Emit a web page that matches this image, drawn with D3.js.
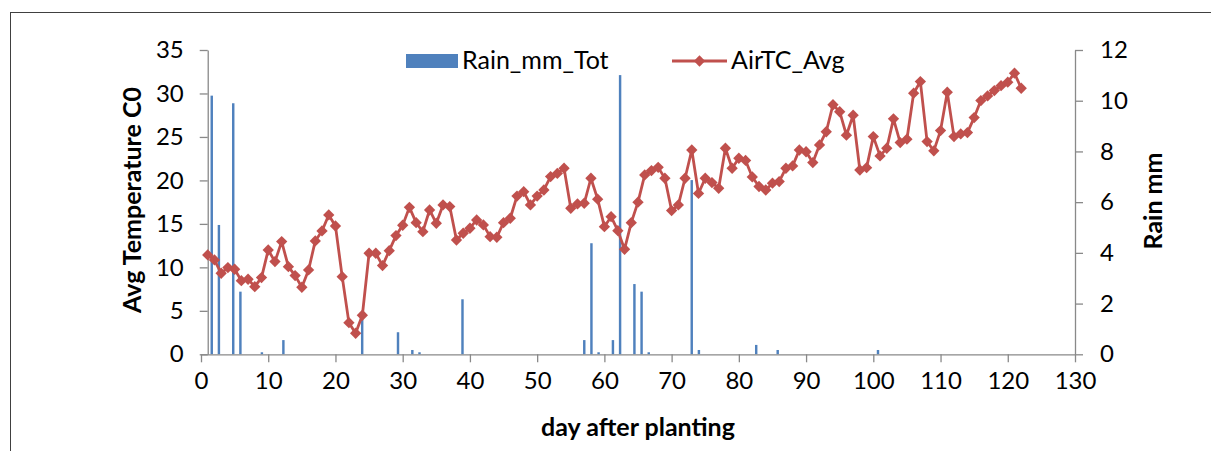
<!DOCTYPE html>
<html>
<head>
<meta charset="utf-8">
<script src="https://cdn.jsdelivr.net/npm/d3@7"></script>
<style>
  html, body { margin: 0; padding: 0; background: #fff; }
  svg { display: block; }
  text { font-family: Lato, "Open Sans", sans-serif; fill: #000; }
</style>
</head>
<body>
<svg id="chart" width="1211" height="451"></svg>
<script>
// ---- Data ----
const days = d3.range(1, 123); // day after planting, 1..122
const airTC = [
  11.43, 10.85, 9.32, 9.97, 9.78, 8.47, 8.63, 7.78, 8.82, 12.0,
  10.66, 12.96, 10.08, 9.05, 7.71, 9.70, 13.04, 14.19, 16.03, 14.76,
  8.93, 3.64, 2.42, 4.49, 11.62, 11.62, 10.2, 11.92, 13.65, 14.84,
  16.9, 15.14, 14.1, 16.6, 15.07, 17.18, 16.99, 13.15, 13.92, 14.5,
  15.45, 14.88, 13.53, 13.46, 15.14, 15.65, 18.2, 18.7, 17.18, 18.2,
  18.9, 20.44, 20.8, 21.4, 16.8, 17.3, 17.37, 20.25, 17.84, 14.68,
  15.83, 14.22, 12.08, 15.14, 17.5, 20.63, 21.13, 21.5, 20.25, 16.53,
  17.18, 20.25, 23.5, 18.5, 20.25, 19.75, 19.1, 23.7, 21.4, 22.55,
  22.3, 20.4, 19.3, 18.9, 19.68, 19.87, 21.4, 21.67, 23.5, 23.3,
  22.05, 24.08, 25.6, 28.7, 27.9, 25.2, 27.5, 21.2, 21.47, 25.04,
  22.82, 23.7, 27.08, 24.35, 24.74, 30.03, 31.37, 24.47, 23.4, 25.73,
  30.15, 25.04, 25.35, 25.5, 27.23, 29.18, 29.72, 30.33, 30.9, 31.3,
  32.33, 30.6
];
const rainDays = [2, 3, 5, 6, 9, 12, 23, 28, 30, 31, 37, 54, 55, 56, 58, 59, 61, 62, 63, 69, 70, 78, 81, 95];
const rainMM   = [10.2, 5.1, 9.9, 2.47, 0.08, 0.56, 1.6, 0.87, 0.17, 0.08, 2.17, 0.56, 4.38, 0.08, 0.56, 11.01, 2.77, 2.47, 0.08, 6.87, 0.17, 0.37, 0.17, 0.17];
const xTicks = [0, 10, 20, 30, 40, 50, 60, 70, 80, 90, 100, 110, 120, 130];
const yLeftTicks = [0, 5, 10, 15, 20, 25, 30, 35];
const yRightTicks = [0, 2, 4, 6, 8, 10, 12];
const seriesNames = ["Rain_mm_Tot", "AirTC_Avg"];

// ---- Layout ----
const svg = d3.select("#chart");
const plot = { left: 201, right: 1075, top: 50, bottom: 354.3 };
const axisColor = "#898989";
const barColor = "#4F81BD";
const lineColor = "#C0504D";
const fs = 24;
const fsTitle = 25;

const x = d3.scaleLinear().domain([0, 130]).range([plot.left, plot.right]);
const yL = d3.scaleLinear().domain([0, 35]).range([plot.bottom, plot.top]);
const yR = d3.scaleLinear().domain([0, 12]).range([plot.bottom, plot.top]);
const band = d3.scaleBand().domain(days).range([plot.left, plot.right])
  .paddingInner(0.66).paddingOuter(0.33);

// outer chart border
svg.append("rect").attr("x", 10.5).attr("y", 12.5).attr("width", 1300).attr("height", 600)
  .attr("fill", "none").attr("stroke", "#404040").attr("stroke-width", 1);

// rain bars
svg.append("g").selectAll("rect").data(rainDays.map((d, i) => ({ d, v: rainMM[i] })))
  .join("rect")
  .attr("x", p => band(p.d))
  .attr("width", band.bandwidth())
  .attr("y", p => yR(p.v))
  .attr("height", p => yR(0) - yR(p.v))
  .attr("fill", barColor);

// axes
function styleAxis(g) {
  g.selectAll(".domain").attr("stroke", axisColor).attr("stroke-width", 1.3);
  g.selectAll(".tick line").attr("stroke", axisColor).attr("stroke-width", 1.3);
  g.selectAll(".tick text").attr("font-size", fs).attr("font-family", "Lato, sans-serif").attr("fill", "#000");
}
const gx = svg.append("g").attr("transform", `translate(0,${plot.bottom})`)
  .call(d3.axisBottom(x).tickValues(xTicks).tickSize(8).tickSizeOuter(0).tickPadding(10));
styleAxis(gx);

const gyl = svg.append("g").attr("transform", `translate(${x(1)},0)`)
  .call(d3.axisLeft(yL).tickValues(yLeftTicks).tickSize(8).tickSizeOuter(0).tickPadding(16));
styleAxis(gyl);

const gyr = svg.append("g").attr("transform", `translate(${plot.right},0)`)
  .call(d3.axisRight(yR).tickValues(yRightTicks).tickSize(8).tickSizeOuter(0).tickPadding(17));
styleAxis(gyr);

// temperature line
const pts = days.map((d, i) => ({ d, v: airTC[i] }));
svg.append("path").datum(pts)
  .attr("fill", "none").attr("stroke", lineColor).attr("stroke-width", 2.8)
  .attr("stroke-linejoin", "round")
  .attr("d", d3.line().x(p => x(p.d)).y(p => yL(p.v)));
const diamond = d3.symbol().type(d3.symbolSquare).size(64);
svg.append("g").selectAll("path").data(pts).join("path")
  .attr("transform", p => `translate(${x(p.d)},${yL(p.v)}) rotate(45)`)
  .attr("d", diamond)
  .attr("fill", lineColor);

// axis titles
svg.append("text").attr("x", 638).attr("y", 436).attr("text-anchor", "middle")
  .attr("font-size", fsTitle).attr("font-weight", "bold").text("day after planting");
svg.append("text").attr("transform", "translate(141,200) rotate(-90)").attr("text-anchor", "middle")
  .attr("font-size", fsTitle).attr("font-weight", "bold").text("Avg Temperature C0");
svg.append("text").attr("transform", "translate(1162,201) rotate(-90)").attr("text-anchor", "middle")
  .attr("font-size", fsTitle).attr("font-weight", "bold").text("Rain mm");

// legend
const lg = svg.append("g");
lg.append("rect").attr("x", 406).attr("y", 54).attr("width", 52).attr("height", 14).attr("fill", barColor);
lg.append("text").attr("x", 462).attr("y", 69).attr("font-size", 25).text(seriesNames[0]);
lg.append("line").attr("x1", 672).attr("x2", 727).attr("y1", 61).attr("y2", 61)
  .attr("stroke", lineColor).attr("stroke-width", 2.8);
lg.append("path").attr("transform", "translate(699.5,61) rotate(45)").attr("d", diamond).attr("fill", lineColor);
lg.append("text").attr("x", 731).attr("y", 69).attr("font-size", 25).text(seriesNames[1]);
</script>
</body>
</html>
